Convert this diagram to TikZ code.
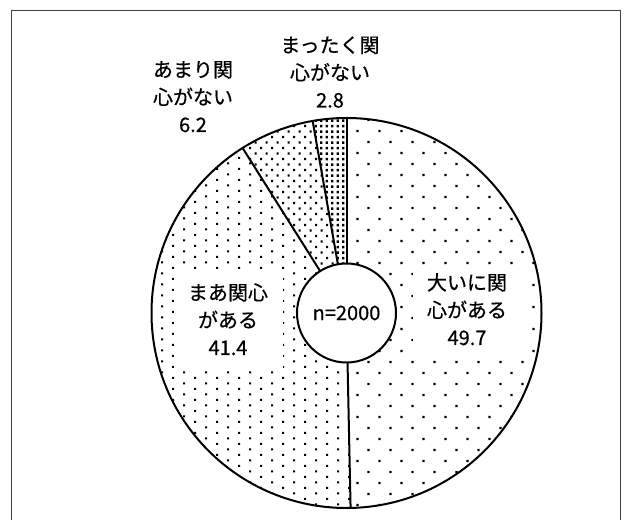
\documentclass[tikz,border=0pt]{standalone}
\usepackage{fontspec}
\setmainfont{Noto Sans CJK JP}[FakeBold=0.6]
\newfontfamily\labfont{Noto Sans CJK JP}[FakeBold=0.6]
\begin{document}
\begin{tikzpicture}[x=1pt,y=1pt,
  lab/.style={font=\labfont\fontsize{20}{27.5}\selectfont, align=center, inner sep=0pt, anchor=base},
  rim/.style={line width=2pt, black},
  whitebox/.style={fill=white, draw=none}]
\useasboundingbox (0,0) rectangle (630,520);
\fill[white] (0,0) rectangle (630,520);
\begin{scope}[yshift=520pt, yscale=-1]
  \coordinate (O) at (346.5,313);
  % frame
  \draw[line width=1pt, black!75] (11,540) -- (11,10.5) -- (620,10.5) -- (620,540);
  % sector 1: 大いに関心がある (sparse dots)
  \begin{scope}
    \clip (O) -- ++(-90:195) arc[start angle=-90, end angle=88.8, radius=195] -- cycle;
    \fill \foreach \i in {-1,...,9}{\foreach \j in {-1,...,18}{
      ({356.3+22*\i},{130+22*\j}) rectangle ++(2.2,2.2)
      ({367.3+22*\i},{141+22*\j}) rectangle ++(2.2,2.2) }};
  \end{scope}
  % sector 2: まあ関心がある
  \begin{scope}
    \clip (O) -- ++(88.8:195) arc[start angle=88.8, end angle=237.8, radius=195] -- cycle;
    \fill \foreach \i in {-3,...,7}{\foreach \j in {-25,...,12}{
      ({205+22*\i},{382.3+11*\j}) rectangle ++(2.2,2.2)
      ({216+22*\i},{387.8+11*\j}) rectangle ++(2.2,2.2) }};
  \end{scope}
  % sector 3: あまり関心がない
  \begin{scope}
    \clip (O) -- ++(237.8:195) arc[start angle=237.8, end angle=260, radius=195] -- cycle;
    \fill \foreach \i in {0,...,11}{\foreach \j in {0,...,15}{
      ({238+11*\i},{114+11*\j}) rectangle ++(2.2,2.2)
      ({243.5+11*\i},{119.5+11*\j}) rectangle ++(2.2,2.2) }};
  \end{scope}
  % sector 4: まったく関心がない
  \begin{scope}
    \clip (O) -- ++(260:195) arc[start angle=260, end angle=270, radius=195] -- cycle;
    \fill \foreach \i in {0,...,8}{\foreach \j in {0,...,30}{
      ({309+5.5*\i},{114+5.5*\j}) rectangle ++(2.3,2.3) }};
  \end{scope}
  % label boxes
  \fill[whitebox] (173.5,269) rectangle (282.5,369.5);
  \fill[whitebox] (413,265) rectangle (528,355);
  % dividers and rim
  \draw[rim] (O) -- ++(-90:195);
  \draw[rim] (O) -- ++(88.8:195);
  \draw[rim] (O) -- ++(237.8:195);
  \draw[rim] (O) -- ++(260:195);
  \draw[rim] (O) circle[radius=195];
  \node[circle, draw, rim, fill=white, minimum size=99pt, inner sep=0pt,
        font=\labfont\fontsize{20}{24}\selectfont] (n) at (O) {n=2000};
  % labels (anchor = baseline of last line)
  \node[lab] (l1) at (467,345) {大いに関\\心がある\\49.7};
  \node[lab] (l2) at (228,355) {まあ関心\\がある\\41.4};
  \node[lab] (l3) at (193,132) {あまり関\\心がない\\6.2};
  \node[lab] (l4) at (330,107.5) {まったく関\\心がない\\2.8};
\end{scope}
\end{tikzpicture}
\end{document}
